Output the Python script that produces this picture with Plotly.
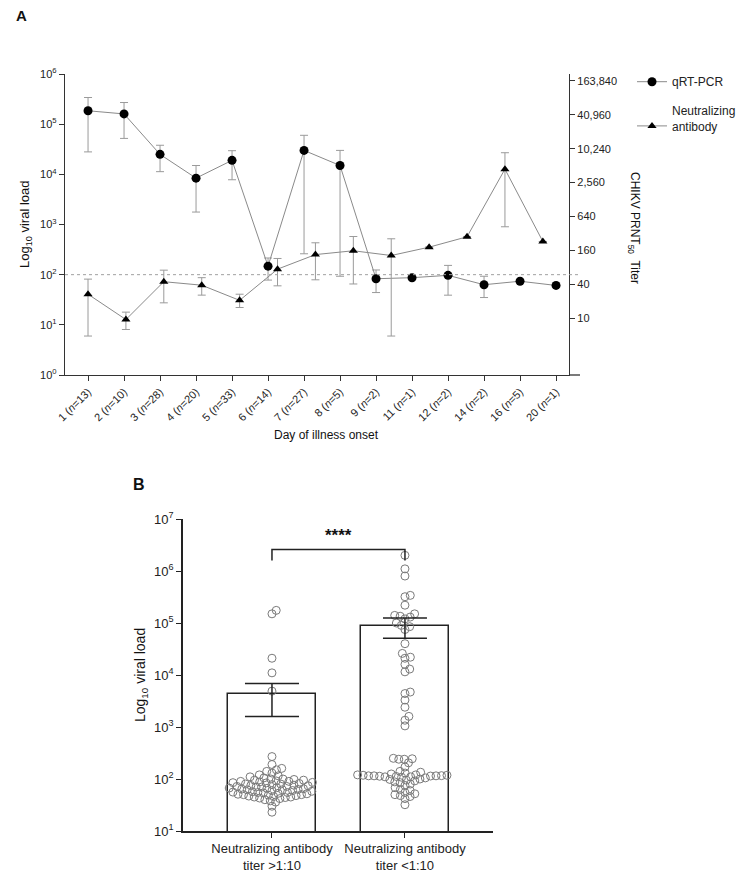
import math
import plotly.graph_objects as go

# page is 744x882; browser body margin is 8px, so the figure itself is 16px smaller
PAGE_W, PAGE_H, BODY_M = 744, 882, 8
W, H = PAGE_W - 2 * BODY_M, PAGE_H - 2 * BODY_M

# ---------------- Panel A data ----------------
days = ["1", "2", "3", "4", "5", "6", "7", "8", "9", "11", "12", "14", "16", "20"]
n_per_day = [13, 10, 28, 20, 33, 14, 27, 5, 2, 1, 2, 2, 5, 1]
pcr = [1.85e5, 1.6e5, 2.5e4, 8.4e3, 1.9e4, 148, 3.0e4, 1.5e4, 83, 87, 97, 63, 74, 61]
pcr_hi = [3.4e5, 2.7e5, 3.8e4, 1.5e4, 2.96e4, 215, 6.0e4, 3.0e4, 124, None, 153, 93, None, None]
pcr_lo = [2.8e4, 5.2e4, 1.13e4, 1.77e3, 7.8e3, 78, 261, 93, 44, None, 39, 35, None, None]

ab_groups = days[:13]
ab = [27, 9.6, 45, 39, 21, 75, 136, 159, 131, 184, 281, 4440, 232]
ab_hi = [50, 13, 72, 53, 27, 116, 220, 284, 259, None, None, 8670, None]
ab_lo = [4.9, 6.4, 19, 26, 15.7, 38, 48.6, 41, 4.9, None, None, 423, None]

left_ticks = [1, 10, 100, 1e3, 1e4, 1e5, 1e6]
left_ticktext = ["10<sup>%d</sup>" % i for i in range(7)]
right_ticks = [10, 40, 160, 640, 2560, 10240, 40960, 163840]
right_ticktext = ["10", "40", "160", "640", "2,560", "10,240", "40,960", "163,840"]
cutoff = 100

# ---------------- Panel B data ----------------
groups_b = ["Neutralizing antibody<br>titer &gt;1:10", "Neutralizing antibody<br>titer &lt;1:10"]
bar_mean = [4.3e3, 8.7e4]
bar_hi = [6.9e3, 1.25e5]
bar_lo = [1.6e3, 5.1e4]
g1_vals = [175000, 150000, 21000, 11000, 4900,
           270, 190, 160, 150, 140, 130, 120, 115, 110, 105, 100, 100, 98, 95, 95,
           92, 90, 90, 88, 86, 85, 84, 82, 80, 80, 78, 76, 75, 74, 72, 72, 70, 70,
           68, 67, 66, 65, 64, 63, 62, 62, 60, 60, 58, 57, 56, 55, 55, 54, 53, 52,
           51, 50, 50, 49, 48, 47, 46, 45, 45, 44, 43, 42, 40, 38, 36, 30, 23]
g2_vals = [2.0e6, 1.1e6, 8.0e5, 3.4e5, 3.2e5, 2.2e5, 1.5e5, 1.4e5, 1.35e5, 1.3e5,
           1.2e5, 1.0e5, 9.0e4, 8.5e4, 7.5e4, 4.0e4, 2.6e4, 2.2e4, 2.1e4, 1.6e4,
           1.3e4, 1.15e4, 4.7e3, 4.4e3, 3.3e3, 2.4e3, 1.6e3, 1.35e3, 1.05e3,
           250, 245, 240, 240, 205, 170, 140, 135, 130, 125, 120, 120, 118, 118,
           116, 115, 115, 115, 114, 113, 112, 110, 110, 108, 105, 100, 98, 95, 92,
           88, 85, 80, 75, 68, 63, 60, 55, 52, 50, 48, 46, 42, 32]
b_ticks = [10, 1e2, 1e3, 1e4, 1e5, 1e6, 1e7]
b_ticktext = ["10<sup>%d</sup>" % i for i in range(1, 8)]


def px(x):
    return (x - BODY_M) / W


def py(y):
    return 1 - (y - BODY_M) / H


def err(hi, lo, v):
    plus = [(h - a) if h is not None else 0 for h, a in zip(hi, v)]
    minus = [(a - l) if l is not None else 0 for l, a in zip(lo, v)]
    return plus, minus


# layout geometry (page pixels)
A_x0, A_x1, A_y0, A_y1 = 65, 569, 74, 375
B_x0, B_x1, B_y0, B_y1 = 183, 493, 519, 831
B_range = [-0.669, 1.662]
B_yrange = [1, 7]


def beeswarm(vals, center, d=5.5):
    ppd = (B_y1 - B_y0) / (B_yrange[1] - B_yrange[0])
    ppu = (B_x1 - B_x0) / (B_range[1] - B_range[0])
    placed = []
    xs = []
    for v in vals:
        y = math.log10(v) * ppd
        cands = [0.0]
        for (qx, qy) in placed:
            dy = abs(qy - y)
            if dy < d:
                dx = math.sqrt(d * d - dy * dy)
                cands += [qx + dx, qx - dx]
        cands.sort(key=abs)
        for c in cands:
            if all((c - qx) ** 2 + (y - qy) ** 2 >= d * d - 1e-6 for qx, qy in placed):
                break
        placed.append((c, y))
        xs.append(center + c / ppu)
    return xs


fig = go.Figure()

GRAY = "#8a8a8a"
ERR = "#9a9a9a"

p_plus, p_minus = err(pcr_hi, pcr_lo, pcr)
xlabels = ["%s (<i>n</i>=%d)" % (d, k) for d, k in zip(days, n_per_day)]

fig.add_trace(go.Scatter(
    x=xlabels, y=pcr, mode="lines+markers", name="qRT-PCR", legendgroup="pcr",
    line=dict(color=GRAY, width=1),
    marker=dict(symbol="circle", size=9, color="black"),
    error_y=dict(type="data", array=p_plus, arrayminus=p_minus, color=ERR, thickness=1, width=4),
    xaxis="x", yaxis="y"))

a_plus, a_minus = err(ab_hi, ab_lo, ab)
fig.add_trace(go.Scatter(
    x=ab_groups, y=ab, mode="lines+markers", name="Neutralizing<br>antibody", legendgroup="ab",
    line=dict(color=GRAY, width=1),
    marker=dict(symbol="triangle-up", size=8, color="black"),
    error_y=dict(type="data", array=a_plus, arrayminus=a_minus, color=ERR, thickness=1, width=4),
    xaxis="x2", yaxis="y2"))

# Panel B bars
for i in range(2):
    fig.add_trace(go.Bar(
        x=[i], y=[bar_mean[i]], width=0.662, marker=dict(color="white", line=dict(color="#222", width=1.5)),
        showlegend=False, xaxis="x3", yaxis="y3"))

for i, vals in enumerate([g1_vals, g2_vals]):
    sv = sorted(vals)
    fig.add_trace(go.Scatter(
        x=beeswarm(sv, i), y=sv, mode="markers", showlegend=False,
        marker=dict(symbol="circle-open", size=8, color="#7a7a7a", line=dict(width=1)),
        xaxis="x3", yaxis="y3"))

caps = [27, 22]
for i in range(2):
    fig.add_trace(go.Scatter(
        x=[i], y=[bar_mean[i]], mode="markers", marker=dict(size=1, color="rgba(0,0,0,0)"),
        error_y=dict(type="data", array=[bar_hi[i] - bar_mean[i]], arrayminus=[bar_mean[i] - bar_lo[i]],
                     color="#222", thickness=1.5, width=caps[i]),
        showlegend=False, xaxis="x3", yaxis="y3"))

# significance bracket
fig.add_trace(go.Scatter(
    x=[0, 0, 1, 1], y=[1.6e6, 2.6e6, 2.6e6, 1.6e6], mode="lines",
    line=dict(color="#222", width=1.5), showlegend=False, xaxis="x3", yaxis="y3"))

FONT = "Liberation Sans, Arial, sans-serif"
tickfont_a = dict(family=FONT, size=11, color="#222")
tickfont_b = dict(family=FONT, size=13, color="#222")

fig.update_layout(
    width=W, height=H, margin=dict(l=0, r=0, t=0, b=0, autoexpand=False),
    paper_bgcolor="white", plot_bgcolor="rgba(0,0,0,0)",
    font=dict(family=FONT, color="#222"),
    showlegend=True,
    legend=dict(x=px(632), y=py(67), xanchor="left", yanchor="top", valign="bottom",
                font=dict(family=FONT, size=12, color="#222"), bgcolor="rgba(0,0,0,0)",
                traceorder="grouped", tracegroupgap=10, itemwidth=30),
    xaxis=dict(domain=[px(A_x0), px(A_x1)], anchor="y", type="category", range=[-0.64, 13.36],
               showline=True, linecolor="#333", linewidth=1.3, ticks="outside", ticklen=5,
               tickcolor="#333", tickangle=-45, tickfont=tickfont_a, showgrid=False, zeroline=False),
    xaxis2=dict(overlaying="x", anchor="y", type="category", range=[-0.607, 12.69], visible=False),
    yaxis=dict(domain=[py(A_y1), py(A_y0)], anchor="x", type="log", range=[0, 6],
               tickvals=left_ticks, ticktext=left_ticktext, showline=True, linecolor="#333",
               linewidth=1.3, ticks="outside", ticklen=5, tickcolor="#333", tickfont=tickfont_a,
               showgrid=False, zeroline=False),
    yaxis2=dict(overlaying="y", anchor="x", side="right", type="log", range=[0, 5.333],
                tickvals=right_ticks, ticktext=right_ticktext, showline=True, linecolor="#333",
                linewidth=1.3, ticks="outside", ticklen=5, tickcolor="#333", tickfont=tickfont_a,
                showgrid=False, zeroline=False),
    xaxis3=dict(domain=[px(B_x0), px(B_x1)], anchor="y3", range=B_range, tickvals=[0, 1],
                ticktext=groups_b, showline=True, linecolor="#222", linewidth=1.5, ticks="outside",
                ticklen=5, tickcolor="#222", tickfont=tickfont_b, tickangle=0,
                showgrid=False, zeroline=False),
    yaxis3=dict(domain=[py(B_y1), py(B_y0)], anchor="x3", type="log", range=B_yrange,
                tickvals=b_ticks, ticktext=b_ticktext, showline=True, linecolor="#222",
                linewidth=1.5, ticks="outside", ticklen=5, tickcolor="#222", tickfont=tickfont_b,
                showgrid=False, zeroline=False),
    bargap=0,
)

# dotted cutoff line (paper coords computed from left axis scale)
cut_y = py(A_y1) + (math.log10(cutoff) / 6) * (py(A_y0) - py(A_y1))
fig.add_shape(type="line", xref="paper", yref="paper", x0=px(A_x0), x1=px(580), y0=cut_y, y1=cut_y,
              line=dict(color="#a0a0a0", width=1, dash="dot"))
# bottom axis line of panel A runs a little past the right axis
fig.add_shape(type="line", xref="paper", yref="paper", x0=px(A_x1), x1=px(580), y0=py(A_y1), y1=py(A_y1),
              line=dict(color="#333", width=1.3))

ann = [
    dict(text="<b>A</b>", x=px(14), y=py(15), xanchor="left", yanchor="middle", size=15),
    dict(text="<b>B</b>", x=px(131), y=py(484), xanchor="left", yanchor="middle", size=16),
    dict(text="Log<sub>10</sub> viral load", x=px(26), y=py(225), textangle=-90, size=13),
    dict(text="CHIKV PRNT<sub>50</sub>  Titer", x=px(634), y=py(228), textangle=90, size=12),
    dict(text="Day of illness onset", x=px(326), y=py(435), size=12),
    dict(text="Log<sub>10</sub> viral load", x=px(141), y=py(675), textangle=-90, size=14),
]
for a in ann:
    fig.add_annotation(text=a["text"], x=a["x"], y=a["y"], xref="paper", yref="paper",
                       xanchor=a.get("xanchor", "center"), yanchor=a.get("yanchor", "middle"),
                       textangle=a.get("textangle", 0), showarrow=False,
                       font=dict(family=FONT, size=a["size"], color="#111"))

fig.add_annotation(text="<b>****</b>", x=0.5, y=6.47, xref="x3", yref="y3", yanchor="bottom",
                   showarrow=False, font=dict(family=FONT, size=17, color="#111"))

fig.write_html("out.html", config={"displayModeBar": False})
